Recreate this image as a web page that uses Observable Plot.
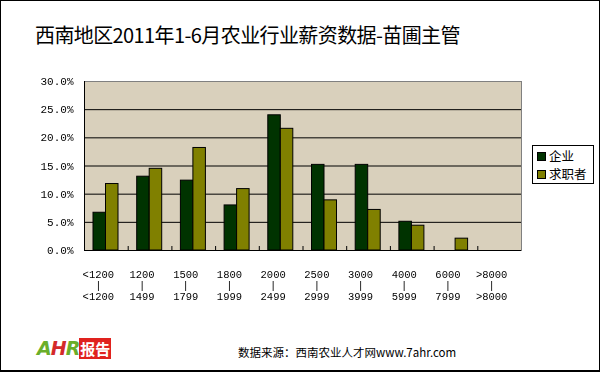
<!DOCTYPE html>
<html>
<head>
<meta charset="utf-8">
<script src="https://cdn.jsdelivr.net/npm/d3@7"></script>
<script src="https://cdn.jsdelivr.net/npm/@observablehq/plot@0.6"></script>
<style>
  html, body { margin: 0; padding: 0; background: #fff; }
  #wrap { position: relative; width: 600px; height: 372px; overflow: hidden; background: #fff; }
  #border { position: absolute; left: 0; top: 0; width: 600px; height: 372px; box-sizing: border-box;
            border: 1px solid #000; border-bottom-width: 2px; pointer-events: none; z-index: 5; }
  #title { position: absolute; left: 35px; top: 20px; font-family: "Noto Sans CJK SC", sans-serif;
           font-size: 20px; letter-spacing: -0.6px; line-height: 30px; color: #000; white-space: nowrap; }
  #chart { position: absolute; left: 0; top: 60px; }
  #chart svg { will-change: transform; }
  #legend { position: absolute; left: 532px; top: 145px; width: 60px; height: 37px; background: #fff;
            border: 1px solid #000; font-family: "Noto Sans CJK SC", sans-serif; font-size: 12.5px; }
  .item { position: absolute; left: 4px; height: 16px; line-height: 16px; white-space: nowrap; }
  .sw { display: inline-block; width: 7px; height: 7px; border: 1px solid #000; margin-right: 3px; vertical-align: 0px; }
  #footer { position: absolute; left: 238px; top: 343px; font-family: "Noto Sans CJK SC", sans-serif;
            font-size: 11.5px; line-height: 18px; color: #000; white-space: nowrap; }
  #logo { position: absolute; left: 37px; top: 338px; height: 21px; white-space: nowrap; }
  #logo .ahr { font-family: "DejaVu Sans", sans-serif; font-style: italic; font-weight: bold; font-size: 19px;
               line-height: 21px; color: #6aae2a; letter-spacing: -1px; vertical-align: top; }
  #logo .ahr b { color: #d42a2a; }
  #logo .rep { display: inline-block; background: #e0221e; color: #fff; font-family: "Noto Sans CJK SC", sans-serif;
               font-weight: bold; font-size: 15px; line-height: 21px; height: 21px; padding: 0 1px; vertical-align: top; }
</style>
</head>
<body>
<div id="wrap">
  <div id="title">西南地区2011年1-6月农业行业薪资数据-苗圃主管</div>
  <div id="chart"></div>
  <div id="legend"></div>
  <div id="logo"><span class="ahr">A<b>H</b>R</span><span class="rep">报告</span></div>
  <div id="footer">数据来源：西南农业人才网www.7ahr.com</div>
  <div id="border"></div>
</div>
<script>
// ---- data ----
const rangeLow  = ["<1200", "1200", "1500", "1800", "2000", "2500", "3000", "4000", "6000", ">8000"];
const rangeHigh = ["<1200", "1499", "1799", "1999", "2499", "2999", "3999", "5999", "7999", ">8000"];
const enterprise = [6.7, 13.1, 12.4, 8.0, 24.0, 15.2, 15.2, 5.1, 0, 0];
const seekers    = [11.8, 14.5, 18.2, 10.9, 21.6, 8.9, 7.2, 4.4, 2.1, 0];
const seriesNames = ["企业", "求职者"];
const yTicks = [0, 5, 10, 15, 20, 25, 30];

const colors = ["#003300", "#808000"];

const rows = rangeLow.map((lo, i) => ({cat: lo, hi: rangeHigh[i], ent: enterprise[i], seek: seekers[i]}));

const W = 600, H = 260, ML = 84, MR = 79, MT = 21, MB = 70;
const step = (W - ML - MR) / rangeLow.length;
const plotH = H - MT - MB;

const chart = Plot.plot({
  width: W, height: H,
  marginLeft: ML, marginRight: MR, marginTop: MT, marginBottom: MB,
  x: {domain: rangeLow, padding: 0, round: false, axis: null},
  y: {domain: [0, 30]},
  style: {fontFamily: "Liberation Mono, monospace", fontSize: "11px", color: "#000", background: "transparent"},
  marks: [
    Plot.frame({fill: "#d9d0bc", stroke: null}),
    Plot.ruleY(yTicks.filter(t => t > 0 && t < 30), {stroke: "#000"}),
    Plot.barY(rows, {x: "cat", y: "ent", fill: colors[0], stroke: "#000", strokeWidth: 1,
                     insetLeft: 9, insetRight: step - 21.5}),
    Plot.barY(rows, {x: "cat", y: "seek", fill: colors[1], stroke: "#000", strokeWidth: 1,
                     insetLeft: 21.5, insetRight: step - 34}),
    Plot.frame({stroke: "#808080"}),
    Plot.ruleY([0], {stroke: "#000"}),
    Plot.tickX([rangeLow[0]], {x: d => d, dx: -step / 2, stroke: "#000"}),
    Plot.tickX(rangeLow.slice(1), {x: d => d, dx: -step / 2, stroke: "#000", insetTop: plotH - 4}),
    Plot.axisY({ticks: yTicks, tickFormat: d => d.toFixed(1) + "%", tickSize: 0, tickPadding: 11,
                fontSize: 11, label: null}),
    Plot.text(rows, {x: "cat", text: d => d.cat + "\n|\n" + d.hi, frameAnchor: "bottom",
                     dy: 20, dx: -8, lineAnchor: "top", lineHeight: 1.05, fontSize: 10.5, fill: "#000"})
  ]
});
document.getElementById("chart").appendChild(chart);

// legend
const legend = document.getElementById("legend");
seriesNames.forEach((name, i) => {
  const it = document.createElement("div");
  it.className = "item";
  it.style.top = (2 + i * 18) + "px";
  it.innerHTML = `<span class="sw" style="background:${colors[i]}"></span>${name}`;
  legend.appendChild(it);
});
</script>
</body>
</html>
